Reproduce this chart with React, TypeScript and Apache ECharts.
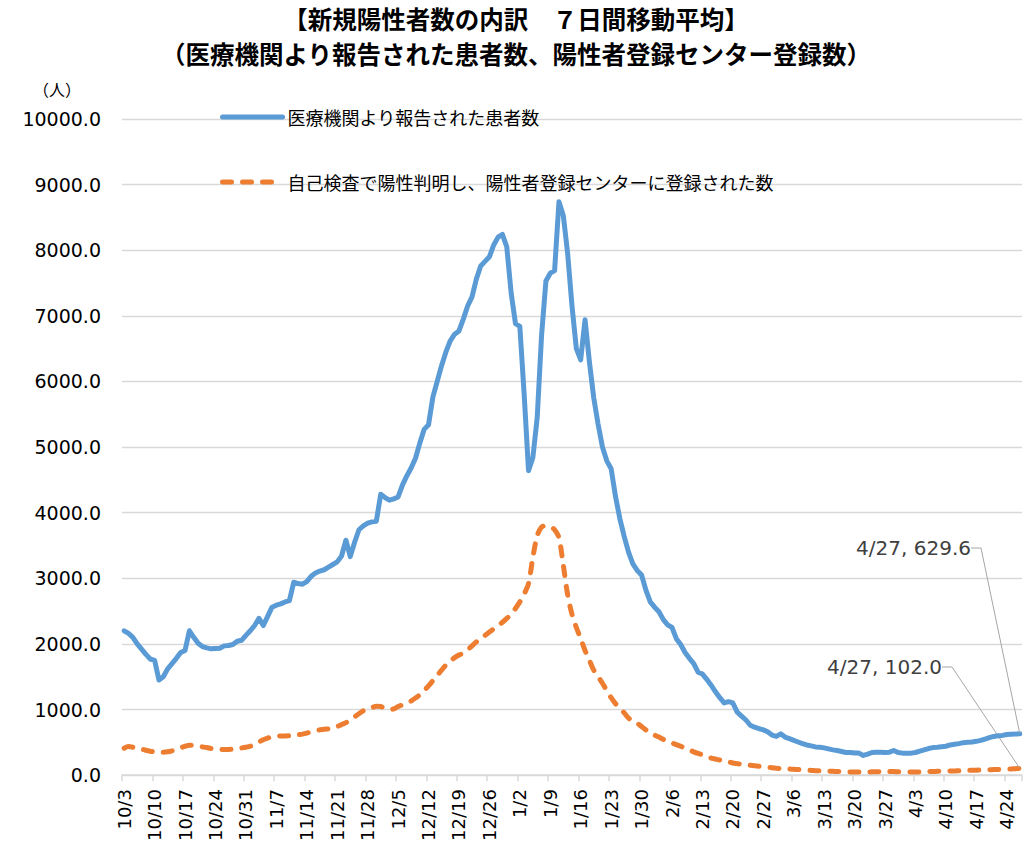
import React, { useEffect, useRef } from "react";
import * as echarts from "echarts";

// ---- Data ----
const TITLE_LINE_1 = "【新規陽性者数の内訳　７日間移動平均】";
const TITLE_LINE_2 = "（医療機関より報告された患者数、陽性者登録センター登録数）";
const Y_UNIT = "（人）";
const SERIES_MEDICAL = "医療機関より報告された患者数";
const SERIES_SELF = "自己検査で陽性判明し、陽性者登録センターに登録された数";

// daily categories 2022/10/3 .. 2023/4/27
const dates: string[] = (() => {
  const out: string[] = [];
  const d = new Date(Date.UTC(2022, 9, 3));
  const end = Date.UTC(2023, 3, 27);
  while (d.getTime() <= end) {
    out.push(`${d.getUTCMonth() + 1}/${d.getUTCDate()}`);
    d.setUTCDate(d.getUTCDate() + 1);
  }
  return out;
})();

const medical: number[] = [
  2200, 2160, 2100, 2000, 1920, 1840, 1770,
  1750, 1450, 1500, 1620, 1700, 1780, 1870,
  1900, 2200, 2100, 2010, 1960, 1940, 1925,
  1930, 1935, 1970, 1975, 1990, 2040, 2055,
  2130, 2200, 2280, 2390, 2280, 2420, 2560,
  2590, 2610, 2640, 2660, 2940, 2920, 2910,
  2950, 3030, 3080, 3110, 3130, 3170, 3210,
  3250, 3340, 3580, 3330, 3550, 3740, 3800,
  3840, 3860, 3870, 4280, 4230, 4190, 4210,
  4240, 4420, 4560, 4680, 4830, 5060, 5270,
  5340, 5760, 6000, 6240, 6450, 6620, 6720,
  6770, 6950, 7150, 7290, 7560, 7760, 7830,
  7900, 8080, 8200, 8240, 8050, 7350, 6880,
  6840, 5800, 4640, 4840, 5450, 6700, 7530,
  7650, 7690, 8740, 8530, 7950, 7150, 6500,
  6330, 6940, 6300, 5750, 5350, 5000, 4790,
  4670, 4250, 3910, 3640, 3400, 3220, 3120,
  3050, 2820, 2640, 2560, 2490, 2370, 2290,
  2250, 2080, 1990, 1870, 1780, 1700, 1570,
  1540, 1460, 1370, 1270, 1180, 1100, 1120,
  1100, 960, 900, 840, 760, 730, 710,
  690, 660, 610, 590, 630, 580, 555,
  530, 505, 480, 460, 445, 430, 425,
  415, 400, 385, 375, 360, 345, 345,
  336, 336, 300, 320, 345, 350, 348,
  345, 350, 375, 345, 335, 335, 335,
  345, 365, 385, 405, 420, 425, 432,
  440, 460, 470, 480, 495, 500, 505,
  515, 530, 550, 570, 590, 600, 605,
  620, 622, 625, 629.6,
];

const selfReported: number[] = [
  410, 435, 425, 405, 395, 380, 365,
  355, 350, 348, 355, 370, 390, 415,
  440, 455, 450, 440, 430, 420, 405,
  398, 392, 390, 392, 398, 408, 415,
  425, 440, 470, 505, 540, 565, 585,
  595, 598, 598, 600, 605, 615, 625,
  640, 660, 678, 690, 700, 705, 715,
  740, 770, 800, 845, 890, 935, 980,
  1010, 1030, 1050, 1045, 1020, 1000, 1010,
  1045, 1070, 1095, 1130, 1175, 1225, 1290,
  1360, 1440, 1520, 1600, 1680, 1740, 1790,
  1830, 1860, 1910, 1970, 2030, 2080, 2130,
  2180, 2230, 2280, 2330, 2390, 2450, 2540,
  2640, 2760, 2920, 3320, 3650, 3780, 3800,
  3790, 3740, 3620, 3200, 2750, 2450, 2250,
  2080, 1900, 1750, 1600, 1500, 1400, 1290,
  1180, 1090, 1020, 950, 870, 820, 790,
  740, 690, 650, 610, 580, 545, 515,
  490, 465, 440, 410, 385, 355, 330,
  310, 285, 260, 245, 230, 210, 200,
  185, 175, 165, 158, 150, 142, 135,
  127, 120, 112, 105, 100, 95, 92,
  88, 85, 80, 76, 72, 68, 65,
  62, 60, 58, 56, 54, 52, 48,
  46, 46, 47, 49, 50, 52, 54,
  55, 55, 55, 52, 50, 47, 46,
  46, 48, 51, 54, 56, 58, 60,
  61, 62, 63, 66, 69, 72, 74,
  76, 78, 80, 82, 84, 86, 88,
  91, 94, 98, 102.0,
];

const BLUE = "#5B9BD5";
const ORANGE = "#ED7D31";
const GRID = "#D9D9D9";
const NUM_FONT = "'DejaVu Sans', Verdana, sans-serif";
const JP_FONT = "'Noto Sans CJK JP', sans-serif";

function withEndLabel(values: number[], color: string) {
  const last = values.length - 1;
  return values.map((v, i) =>
    i === last
      ? {
          value: v,
          symbol: "circle",
          symbolSize: 2,
          itemStyle: { color },
          label: {
            show: true,
            formatter: (p: any) => `${p.name}, ${Number(p.value).toFixed(1)}`,
            fontSize: 20,
            fontFamily: NUM_FONT,
            color: "#404040",
            padding: [0, 6, 0, 0],
          },
          labelLine: {
            show: true,
            length2: 10,
            minTurnAngle: 0,
            lineStyle: { color: "#A6A6A6", width: 1 },
          },
        }
      : v
  );
}

export default function App() {
  const ref = useRef<HTMLDivElement>(null);
  useEffect(() => {
    if (!ref.current) return;
    const chart = echarts.init(ref.current, undefined, { renderer: "svg" });
    const lastIdx = dates.length - 1;
    const option: any = {
      animation: false,
      backgroundColor: "#fff",
      textStyle: { fontFamily: NUM_FONT },
      title: [
        {
          text: TITLE_LINE_1,
          left: "center",
          top: 1,
          textStyle: { fontSize: 24.5, fontWeight: "bold", fontFamily: JP_FONT, color: "#000" },
        },
        {
          text: TITLE_LINE_2,
          left: "center",
          top: 36.5,
          textStyle: { fontSize: 24.5, fontWeight: "bold", fontFamily: JP_FONT, color: "#000" },
        },
      ],
      legend: {
        orient: "vertical",
        left: 215,
        top: 103,
        itemWidth: 60,
        itemHeight: 10,
        itemGap: 47,
        itemStyle: { opacity: 0 },
        textStyle: { fontSize: 18, fontFamily: JP_FONT, color: "#000" },
        data: [
          { name: SERIES_MEDICAL, lineStyle: { width: 5, color: BLUE, type: "solid", cap: "round" } },
          { name: SERIES_SELF, lineStyle: { width: 5, color: ORANGE, type: [9, 11], cap: "round" } },
        ],
      },
      grid: { left: 122, right: 10, top: 119, bottom: 62, containLabel: false },
      graphic: [
        {
          type: "text",
          left: 33,
          top: 81,
          style: { text: Y_UNIT, fontSize: 16, fontFamily: JP_FONT, fill: "#000" },
        },
      ],
      xAxis: {
        type: "category",
        data: dates,
        boundaryGap: true,
        axisLine: { lineStyle: { color: GRID, width: 1.5 } },
        axisTick: { show: true, interval: 6, length: 6, alignWithLabel: false, lineStyle: { color: GRID, width: 1.5 } },
        axisLabel: { interval: 6, rotate: 90, fontSize: 18, color: "#000", margin: 14, fontFamily: NUM_FONT },
        splitLine: { show: false },
      },
      yAxis: {
        type: "value",
        min: 0,
        max: 10000,
        interval: 1000,
        axisLine: { show: false },
        axisTick: { show: false },
        axisLabel: {
          formatter: (v: number) => v.toFixed(1),
          fontSize: 19,
          color: "#000",
          margin: 21,
          fontFamily: NUM_FONT,
        },
        splitLine: { lineStyle: { color: GRID, width: 1.3 } },
      },
      series: [
        {
          name: SERIES_MEDICAL,
          type: "line",
          data: withEndLabel(medical, BLUE),
          symbol: "none",
          showSymbol: true,
          showAllSymbol: true,
          lineStyle: { color: BLUE, width: 5, cap: "round", join: "round" },
          itemStyle: { color: BLUE },
          z: 3,
          labelLayout: (p: any) =>
            p.dataIndex === lastIdx ? { x: 977, y: 548, align: "right", verticalAlign: "middle" } : {},
        },
        {
          name: SERIES_SELF,
          type: "line",
          data: withEndLabel(selfReported, ORANGE),
          symbol: "none",
          showSymbol: true,
          showAllSymbol: true,
          smooth: 0.3,
          lineStyle: { color: ORANGE, width: 5, type: [9, 11], cap: "round", join: "round" },
          itemStyle: { color: ORANGE },
          z: 2,
          labelLayout: (p: any) =>
            p.dataIndex === lastIdx ? { x: 948, y: 667, align: "right", verticalAlign: "middle" } : {},
        },
      ],
    };
    chart.setOption(option);
    return () => chart.dispose();
  }, []);
  return (
    <div
      ref={ref}
      style={{ position: "absolute", left: 0, top: 0, width: 1032, height: 844 }}
    />
  );
}
